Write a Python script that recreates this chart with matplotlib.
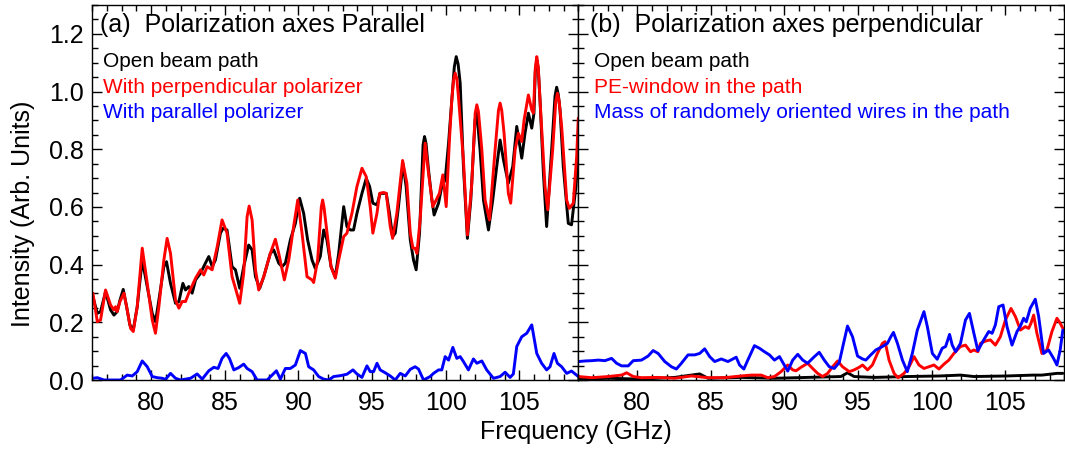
import numpy as np
import matplotlib.pyplot as plt
from matplotlib.ticker import MultipleLocator

plt.rcParams['font.family'] = ['Liberation Sans', 'DejaVu Sans']

# ---- panel (a): polarization axes parallel ----
a_open_f = [76.04, 76.34, 76.56, 76.90, 77.24, 77.47, 77.69, 77.88, 78.10, 78.33, 78.55, 78.78,
            79.05, 79.39, 79.73, 80.07, 80.29, 80.52, 80.86, 81.04, 81.31, 81.65, 81.88, 82.15,
            82.33, 82.55, 82.78, 83.01, 83.35, 83.68, 83.91, 84.14, 84.36, 84.70, 84.88, 85.15,
            85.49, 85.72, 86.01, 86.28, 86.62, 86.85, 87.08, 87.37, 87.64, 88.09, 88.32, 88.66,
            88.88, 89.11, 89.45, 89.79, 90.08, 90.35, 90.62, 90.92, 91.14, 91.48, 91.71, 91.93,
            92.21, 92.50, 92.73, 93.07, 93.29, 93.52, 93.74, 93.97, 94.31, 94.60, 94.83, 95.05,
            95.33, 95.55, 95.82, 95.96, 96.18, 96.39, 96.57, 96.79, 97.09, 97.31, 97.59, 97.81,
            97.99, 98.22, 98.46, 98.56, 98.66, 98.83, 99.06, 99.21, 99.51, 99.73, 99.96, 100.19,
            100.41, 100.58, 100.71, 100.84, 100.98, 101.20, 101.47, 101.70, 101.99, 102.11, 102.33,
            102.56, 102.90, 103.19, 103.46, 103.69, 103.92, 104.25, 104.55, 104.82, 105.04, 105.16,
            105.38, 105.61, 105.84, 105.99, 106.08, 106.18, 106.28, 106.40, 106.63, 106.85, 107.19,
            107.42, 107.53, 107.64, 107.76, 107.98, 108.32, 108.54, 108.84, 109.00]
a_open_i = [0.289, 0.231, 0.237, 0.306, 0.243, 0.225, 0.237, 0.277, 0.314, 0.254, 0.191, 0.173,
            0.254, 0.416, 0.324, 0.231, 0.202, 0.277, 0.393, 0.410, 0.335, 0.266, 0.272, 0.335,
            0.312, 0.324, 0.301, 0.347, 0.370, 0.405, 0.428, 0.393, 0.416, 0.509, 0.526, 0.520,
            0.393, 0.382, 0.318, 0.393, 0.468, 0.451, 0.358, 0.318, 0.358, 0.439, 0.451, 0.405,
            0.393, 0.405, 0.486, 0.543, 0.630, 0.578, 0.486, 0.416, 0.387, 0.428, 0.520, 0.486,
            0.393, 0.358, 0.439, 0.601, 0.532, 0.520, 0.520, 0.578, 0.647, 0.699, 0.671, 0.613,
            0.607, 0.647, 0.647, 0.647, 0.578, 0.497, 0.509, 0.601, 0.751, 0.671, 0.486, 0.416,
            0.382, 0.509, 0.815, 0.844, 0.820, 0.728, 0.624, 0.572, 0.613, 0.671, 0.694, 0.821,
            0.971, 1.085, 1.121, 1.095, 1.029, 0.740, 0.491, 0.624, 0.902, 0.925, 0.798,
            0.624, 0.520, 0.624, 0.740, 0.832, 0.763, 0.682, 0.740, 0.879, 0.809, 0.769,
            0.855, 0.925, 0.873, 0.925, 1.070, 1.110, 1.080, 0.971, 0.717, 0.532, 0.798,
            0.985, 1.015, 0.990, 0.936, 0.740, 0.543, 0.538, 0.671, 0.800]

a_perp_f = [76.04, 76.34, 76.56, 76.90, 77.24, 77.47, 77.58, 77.69, 77.88, 78.15, 78.37, 78.60,
            78.78, 79.05, 79.39, 79.73, 80.07, 80.29, 80.52, 80.86, 81.08, 81.31, 81.65, 81.88,
            82.10, 82.33, 82.55, 83.01, 83.35, 83.57, 83.80, 84.14, 84.48, 84.81, 85.15, 85.49,
            85.72, 86.01, 86.28, 86.51, 86.65, 86.85, 87.08, 87.30, 87.64, 88.09, 88.43, 88.66,
            89.04, 89.34, 89.67, 89.95, 90.24, 90.58, 90.92, 91.03, 91.30, 91.55, 91.64, 91.73,
            91.89, 92.21, 92.50, 92.73, 93.07, 93.29, 93.63, 93.97, 94.31, 94.60, 94.87, 95.05,
            95.33, 95.51, 95.78, 95.96, 96.23, 96.39, 96.68, 97.07, 97.36, 97.59, 97.77, 97.92,
            98.04, 98.26, 98.60, 98.83, 99.12, 99.35, 99.57, 99.80, 100.03, 100.25, 100.41, 100.53,
            100.64, 100.75, 100.86, 101.20, 101.47, 101.77, 102.00, 102.11, 102.22, 102.45, 102.67,
            102.97, 103.35, 103.58, 103.69, 103.80, 103.96, 104.25, 104.41, 104.71, 104.93, 105.16,
            105.32, 105.61, 105.84, 105.95, 106.08, 106.18, 106.28, 106.40, 106.74, 106.92, 107.26,
            107.47, 107.58, 107.69, 107.87, 108.21, 108.39, 108.66, 108.89, 109.00]
a_perp_i = [0.301, 0.202, 0.208, 0.312, 0.260, 0.243, 0.254, 0.237, 0.272, 0.301, 0.243, 0.179,
            0.168, 0.254, 0.457, 0.335, 0.208, 0.162, 0.254, 0.416, 0.491, 0.439, 0.277, 0.249,
            0.272, 0.272, 0.301, 0.353, 0.382, 0.364, 0.393, 0.382, 0.462, 0.555, 0.509, 0.358,
            0.318, 0.266, 0.370, 0.566, 0.603, 0.555, 0.382, 0.312, 0.358, 0.439, 0.488, 0.439,
            0.347, 0.416, 0.532, 0.624, 0.509, 0.358, 0.347, 0.338, 0.416, 0.600, 0.624, 0.600,
            0.532, 0.393, 0.353, 0.416, 0.497, 0.509, 0.578, 0.671, 0.734, 0.705, 0.601, 0.509,
            0.578, 0.647, 0.650, 0.647, 0.532, 0.491, 0.578, 0.761, 0.682, 0.509, 0.457, 0.457,
            0.439, 0.555, 0.821, 0.717, 0.601, 0.624, 0.647, 0.711, 0.601, 0.832, 0.971, 1.040,
            1.064, 1.045, 0.983, 0.763, 0.503, 0.682, 0.925, 0.954, 0.930, 0.798, 0.624,
            0.555, 0.798, 0.935, 0.960, 0.935, 0.855, 0.647, 0.613, 0.798, 0.855, 0.827,
            0.902, 0.988, 0.936, 0.925, 1.080, 1.121, 1.085, 0.971, 0.671, 0.590, 0.798,
            0.965, 0.994, 0.970, 0.879, 0.624, 0.595, 0.613, 0.775, 0.908]

a_par_f = [76.04, 76.34, 76.79, 77.92, 78.37, 78.71, 79.05, 79.39, 79.73, 80.07, 80.41, 80.75,
           80.97, 81.31, 81.65, 81.99, 82.67, 83.12, 83.46, 83.91, 84.25, 84.54, 84.81, 85.09,
           85.31, 85.61, 85.94, 86.28, 86.51, 86.85, 87.19, 87.87, 88.21, 88.50, 88.77, 89.11,
           89.45, 89.79, 90.13, 90.47, 90.69, 91.03, 91.37, 91.71, 92.05, 92.39, 92.84, 93.29,
           93.70, 93.97, 94.31, 94.65, 94.87, 95.10, 95.33, 95.55, 95.89, 96.23, 96.57, 96.91,
           97.25, 97.59, 97.92, 98.15, 98.49, 98.94, 99.17, 99.51, 99.73, 99.96, 100.19, 100.48,
           100.75, 100.98, 101.20, 101.54, 101.88, 102.11, 102.45, 102.78, 103.24, 103.69, 104.03,
           104.37, 104.59, 104.82, 105.16, 105.50, 105.84, 106.18, 106.51, 106.85, 107.08, 107.35,
           107.58, 107.87, 108.21, 108.54, 109.00]
a_par_i = [0.006, 0.008, 0.000, 0.000, 0.017, 0.014, 0.029, 0.066, 0.046, 0.012, 0.008, 0.006,
           0.002, 0.023, 0.006, 0.000, 0.006, 0.021, 0.003, 0.032, 0.044, 0.040, 0.075, 0.092,
           0.075, 0.035, 0.043, 0.055, 0.040, 0.029, 0.000, 0.000, 0.017, 0.032, 0.003, 0.040,
           0.040, 0.052, 0.102, 0.092, 0.046, 0.035, 0.012, 0.003, 0.000, 0.012, 0.015, 0.020,
           0.035, 0.021, 0.009, 0.049, 0.029, 0.029, 0.058, 0.035, 0.025, 0.014, 0.000, 0.023,
           0.014, 0.037, 0.046, 0.038, 0.000, 0.012, 0.023, 0.035, 0.035, 0.081, 0.069, 0.113,
           0.075, 0.081, 0.064, 0.035, 0.073, 0.058, 0.066, 0.035, 0.006, 0.012, 0.027,
           0.009, 0.021, 0.116, 0.150, 0.162, 0.191, 0.092, 0.058, 0.035, 0.046, 0.092,
           0.058, 0.046, 0.023, 0.031, 0.012]

# ---- panel (b): polarization axes perpendicular ----
b_open_f = [76.01, 78.04, 80.29, 82.55, 84.24, 84.81, 87.06, 89.32, 91.57, 93.83, 94.28, 94.73,
            96.09, 98.34, 100.60, 101.95, 102.86, 105.11, 106.92, 107.48, 108.50, 108.90]
b_open_i = [0.002, 0.006, 0.003, 0.009, 0.021, 0.006, 0.009, 0.006, 0.009, 0.012, 0.025, 0.012,
            0.009, 0.012, 0.014, 0.017, 0.012, 0.014, 0.017, 0.017, 0.023, 0.023]

b_pe_f = [76.01, 76.91, 78.04, 78.94, 79.28, 79.73, 80.29, 81.42, 82.55, 83.68, 84.81, 85.93,
          87.06, 87.74, 88.42, 88.87, 89.32, 89.77, 90.22, 90.56, 90.79, 91.12, 91.57, 91.91,
          92.25, 92.59, 92.93, 93.27, 93.61, 93.94, 94.40, 94.73, 95.07, 95.30, 95.64, 95.97,
          96.31, 96.65, 96.83, 97.10, 97.44, 97.71, 98.12, 98.46, 98.80, 99.13, 99.47, 99.81,
          100.15, 100.49, 100.83, 101.16, 101.50, 101.95, 102.29, 102.63, 102.86, 103.13, 103.31,
          103.65, 103.98, 104.32, 104.66, 105.00, 105.38, 105.68, 106.02, 106.35, 106.58, 106.74,
          106.92, 107.14, 107.48, 107.82, 108.16, 108.50, 108.72, 108.90]
b_pe_i = [0.012, 0.008, 0.012, 0.017, 0.025, 0.012, 0.008, 0.009, 0.006, 0.014, 0.008, 0.008,
          0.014, 0.017, 0.017, 0.008, 0.012, 0.029, 0.052, 0.035, 0.032, 0.044, 0.058, 0.040,
          0.023, 0.012, 0.023, 0.046, 0.066, 0.046, 0.029, 0.035, 0.044, 0.052, 0.035, 0.052,
          0.092, 0.127, 0.133, 0.069, 0.023, 0.008, 0.023, 0.046, 0.081, 0.052, 0.040, 0.046,
          0.052, 0.038, 0.055, 0.069, 0.092, 0.116, 0.121, 0.098, 0.104, 0.098, 0.127,
          0.135, 0.139, 0.121, 0.150, 0.208, 0.248, 0.220, 0.173, 0.185, 0.179, 0.197,
          0.225, 0.162, 0.092, 0.104, 0.168, 0.214, 0.197, 0.179]

b_wire_f = [76.01, 76.46, 76.91, 77.36, 77.81, 78.26, 78.60, 78.94, 79.39, 79.73, 80.29, 80.74,
            81.08, 81.42, 81.87, 82.32, 82.66, 83.00, 83.45, 83.90, 84.24, 84.58, 84.92, 85.26,
            85.71, 86.16, 86.50, 86.72, 86.95, 87.24, 87.51, 87.96, 88.30, 88.64, 88.98, 89.32,
            89.66, 89.95, 90.22, 90.56, 90.90, 91.24, 91.57, 92.03, 92.36, 92.70, 93.04, 93.38,
            93.72, 94.01, 94.28, 94.62, 94.96, 95.30, 95.52, 95.86, 96.20, 96.65, 96.99, 97.22,
            97.40, 97.67, 98.01, 98.34, 98.68, 99.02, 99.47, 99.70, 100.04, 100.37, 100.71, 100.94,
            101.21, 101.39, 101.62, 101.95, 102.29, 102.56, 102.86, 103.13, 103.53, 103.87, 104.10,
            104.32, 104.55, 104.84, 105.11, 105.45, 105.79, 106.02, 106.24, 106.42, 106.69, 107.03,
            107.26, 107.59, 107.93, 108.27, 108.50, 108.72, 108.90]
b_wire_i = [0.064, 0.066, 0.067, 0.069, 0.067, 0.075, 0.058, 0.049, 0.049, 0.067, 0.069, 0.083,
            0.102, 0.092, 0.064, 0.046, 0.038, 0.058, 0.087, 0.087, 0.092, 0.108, 0.081, 0.064,
            0.073, 0.064, 0.073, 0.079, 0.052, 0.038, 0.069, 0.119, 0.110, 0.098, 0.087, 0.069,
            0.081, 0.055, 0.031, 0.069, 0.089, 0.069, 0.058, 0.081, 0.096, 0.069, 0.046, 0.040,
            0.061, 0.127, 0.187, 0.150, 0.083, 0.073, 0.069, 0.087, 0.104, 0.116, 0.127, 0.150,
            0.165, 0.127, 0.069, 0.029, 0.092, 0.173, 0.237, 0.185, 0.092, 0.072, 0.110, 0.116,
            0.158, 0.121, 0.098, 0.127, 0.208, 0.231, 0.162, 0.102, 0.139, 0.168, 0.162,
            0.191, 0.254, 0.260, 0.185, 0.121, 0.168, 0.187, 0.214, 0.202, 0.249, 0.280,
            0.220, 0.092, 0.104, 0.075, 0.052, 0.104, 0.173]

titles = ['(a)  Polarization axes Parallel', '(b)  Polarization axes perpendicular']
labels_a = ['Open beam path', 'With perpendicular polarizer', 'With parallel polarizer']
labels_b = ['Open beam path', 'PE-window in the path', 'Mass of randomely oriented wires in the path']
colors = ['black', '#ff0000', '#0000ff']

fig = plt.figure(figsize=(10.65, 4.49), dpi=100)
W, H = 1065, 449
ax1 = fig.add_axes([92.3 / W, 1 - 380 / H, 486 / W, 375 / H])
ax2 = fig.add_axes([578.3 / W, 1 - 380 / H, 486 / W, 375 / H])

series = [
    (ax1, [(a_open_f, a_open_i), (a_perp_f, a_perp_i), (a_par_f, a_par_i)], labels_a, titles[0]),
    (ax2, [(b_open_f, b_open_i), (b_pe_f, b_pe_i), (b_wire_f, b_wire_i)], labels_b, titles[1]),
]

for ax, data, labels, title in series:
    for (f, i), c in zip(data, colors):
        ax.plot(f, i, color=c, lw=2.1, solid_joinstyle='round', solid_capstyle='round')
    ax.set_xlim(76, 109)
    ax.set_ylim(0, 1.3)
    ax.xaxis.set_major_locator(MultipleLocator(5))
    ax.xaxis.set_minor_locator(MultipleLocator(1))
    ax.yaxis.set_major_locator(MultipleLocator(0.2))
    ax.yaxis.set_minor_locator(MultipleLocator(0.05))
    ax.tick_params(which='both', direction='in', top=True, right=True, labelsize=18, width=1)
    ax.tick_params(which='major', length=7)
    ax.tick_params(which='minor', length=4)
    ax.tick_params(axis='x', pad=8)
    ax.tick_params(axis='y', pad=6)
    for s in ax.spines.values():
        s.set_linewidth(1)
    x0 = 0.016 if ax is ax1 else 0.025
    ax.text(x0, 0.947, title, transform=ax.transAxes, fontsize=18, va='center', ha='left')
    for k, (lab, c) in enumerate(zip(labels, colors)):
        ax.text(x0 + 0.007, [0.848, 0.779, 0.712][k], lab, color=c, transform=ax.transAxes,
                fontsize=15, va='center', ha='left')

ax1.yaxis.set_major_formatter(plt.FormatStrFormatter('%.1f'))
ax2.tick_params(labelleft=False)

fig.text(576 / W, 1 - 432 / H, 'Frequency (GHz)', fontsize=18, ha='center', va='center')
fig.text(23 / W, 1 - 214 / H, 'Intensity (Arb. Units)', fontsize=18, ha='center', va='center',
         rotation=90)

fig.savefig('out.png', dpi=100)
